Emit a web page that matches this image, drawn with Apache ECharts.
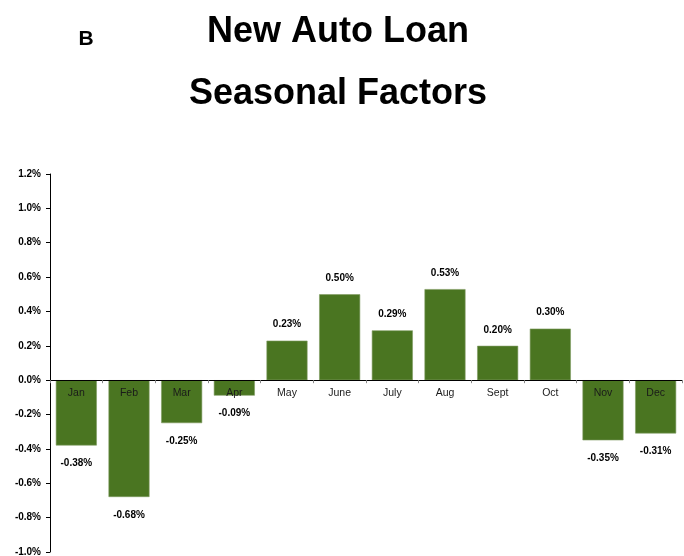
<!DOCTYPE html>
<html>
<head>
<meta charset="utf-8">
<script src="https://cdn.jsdelivr.net/npm/echarts@6/dist/echarts.min.js"></script>
<style>
  html, body { margin: 0; padding: 0; background: #ffffff; }
  #chart { width: 684px; height: 556px; }
</style>
</head>
<body>
<div id="chart"></div>
<script>
// Monthly seasonal factors for new auto loans (percent)
const months = ['Jan', 'Feb', 'Mar', 'Apr', 'May', 'June', 'July', 'Aug', 'Sept', 'Oct', 'Nov', 'Dec'];
const factors = [-0.38, -0.68, -0.25, -0.09, 0.23, 0.50, 0.29, 0.53, 0.20, 0.30, -0.35, -0.31];
const yMin = -1.0;
const yMax = 1.2;
const yStep = 0.2;

const FONT = 'Liberation Sans, Arial, sans-serif';
const barColor = '#4a7521';

const chart = echarts.init(document.getElementById('chart'), null, { renderer: 'canvas' });

const barData = factors.map(v => ({
  value: v,
  label: {
    position: v >= 0 ? 'top' : 'bottom',
    distance: v >= 0 ? 11 : 13
  }
}));

// Month names sit just under the zero line, so they are anchored at value 0
const monthLabelData = months.map(m => [m, 0]);

chart.setOption({
  animation: false,
  backgroundColor: '#ffffff',
  title: [
    {
      text: 'New Auto Loan',
      left: 333, top: 9, textAlign: 'center',
      textStyle: { fontFamily: FONT, fontWeight: 'bold', fontSize: 36, color: '#000' }
    },
    {
      text: 'Seasonal Factors',
      left: 333, top: 71, textAlign: 'center',
      textStyle: { fontFamily: FONT, fontWeight: 'bold', fontSize: 36, color: '#000' }
    },
    {
      text: 'B',
      left: 81, top: 24, textAlign: 'center',
      textStyle: { fontFamily: FONT, fontWeight: 'bold', fontSize: 21, color: '#000' }
    }
  ],
  grid: { left: 50, right: 2, top: 174, bottom: 4, containLabel: false, outerBoundsMode: 'none' },
  xAxis: {
    type: 'category',
    data: months,
    axisLine: { onZero: true, lineStyle: { color: '#000', width: 1 } },
    axisTick: { show: true, alignWithLabel: false, length: 3, lineStyle: { color: '#888' } },
    axisLabel: { show: false },
    z: 10
  },
  yAxis: {
    type: 'value',
    min: yMin, max: yMax, interval: yStep,
    splitLine: { show: false },
    axisLine: { show: true, lineStyle: { color: '#000', width: 1 } },
    axisTick: { show: true, length: 4, lineStyle: { color: '#000' } },
    axisLabel: {
      margin: 9,
      fontFamily: FONT, fontSize: 10, fontWeight: 'bold', color: '#000',
      formatter: v => v.toFixed(1) + '%'
    }
  },
  series: [
    {
      type: 'bar',
      data: barData,
      barWidth: 41,
      itemStyle: { color: barColor, borderColor: '#7f9a62', borderWidth: 0.6 },
      label: {
        show: true,
        fontFamily: FONT, fontSize: 10, fontWeight: 'bold', color: '#000',
        formatter: p => p.value.toFixed(2) + '%'
      },
      z: 2
    },
    {
      type: 'scatter',
      data: monthLabelData,
      symbolSize: 0,
      silent: true,
      label: {
        show: true,
        position: 'bottom',
        distance: 7,
        fontFamily: FONT, fontSize: 10.5, color: '#1a1a1a',
        textBorderWidth: 0,
        opacity: 1,
        formatter: p => p.value[0]
      },
      z: 5
    }
  ]
});
</script>
</body>
</html>
